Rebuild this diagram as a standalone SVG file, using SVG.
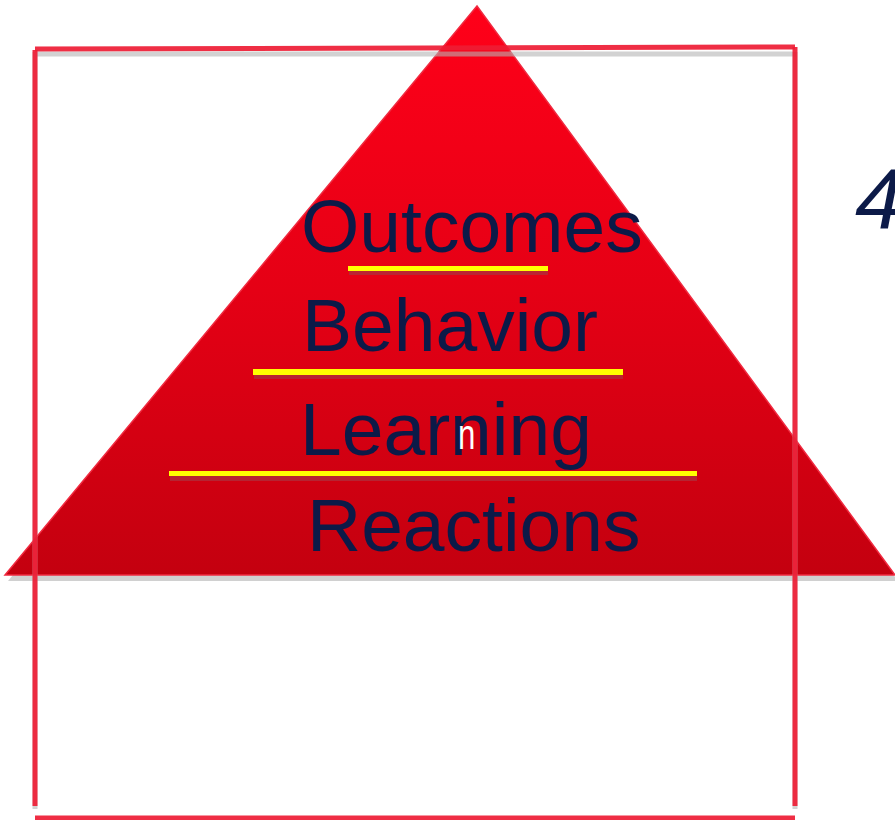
<svg xmlns="http://www.w3.org/2000/svg" width="895" height="820" viewBox="0 0 895 820">
  <defs>
    <linearGradient id="pyrFill" x1="0" y1="0" x2="0" y2="1">
      <stop offset="0" stop-color="#ff0019"/>
      <stop offset="0.5" stop-color="#e50015"/>
      <stop offset="1" stop-color="#c4000f"/>
    </linearGradient>
    <style>
      .label { font-family: "Liberation Sans", Arial, sans-serif; font-size: 75px; fill: #0c1a48; }
      .frame { stroke: #ee1c34; stroke-width: 5; fill: none; opacity: 0.92; }
      .frame-shadow { stroke: #b4b4b4; stroke-width: 5; fill: none; opacity: 0.6; }
      .rule { fill: #ffff00; }
      .rule-shadow { fill: #b22a38; opacity: 0.85; }
    </style>
  </defs>

  <rect width="895" height="820" fill="#ffffff"/>

  <!-- pyramid -->
  <g id="pyramid">
    <polygon points="480,12 8,581 898,581" fill="#c8c8c8" opacity="0.85"/>
    <polygon points="477,6 5,575 895,575" fill="url(#pyrFill)" stroke="#f02a40" stroke-width="1.5"/>
  </g>

  <!-- level separators -->
  <g id="separators">
    <rect class="rule-shadow" x="349" y="271" width="199" height="4"/>
    <rect class="rule" x="348" y="266" width="200" height="5"/>
    <rect class="rule-shadow" x="254" y="375" width="369" height="4"/>
    <rect class="rule" x="253" y="369" width="370" height="6"/>
    <rect class="rule-shadow" x="170" y="476" width="527" height="5"/>
    <rect class="rule" x="169" y="471" width="528" height="5"/>
  </g>

  <!-- level labels -->
  <g id="level-outcomes"><text class="label" x="301" y="252">Outcomes</text></g>
  <g id="level-behavior"><text class="label" x="302" y="351">Behavior</text></g>
  <g id="level-learning">
    <text class="label" x="300" y="455">Learning</text>
    <text x="458" y="449" font-family="Liberation Sans, Arial, sans-serif" font-size="40" fill="#ffffff" transform="translate(458 449) scale(0.78 1.05) translate(-458 -449)">n</text>
  </g>
  <g id="level-reactions"><text class="label" x="307" y="551">Reactions</text></g>

  <!-- side number -->
  <g id="number">
    <text x="855" y="228" font-family="Liberation Sans, Arial, sans-serif" font-size="86" font-style="italic" fill="#0c1a48">4</text>
  </g>

  <!-- frame edges -->
  <g id="frame">
    <line class="frame-shadow" x1="37" y1="54" x2="796" y2="54"/>
    <line class="frame-shadow" x1="35" y1="52" x2="35" y2="809"/>
    <line class="frame-shadow" x1="795" y1="52" x2="795" y2="809"/>
    <line class="frame" x1="35" y1="49" x2="795" y2="47"/>
    <line class="frame" x1="35" y1="50" x2="35" y2="806"/>
    <line class="frame" x1="795" y1="47" x2="795" y2="806"/>
    <line class="frame" x1="35" y1="818" x2="795" y2="818"/>
  </g>
</svg>
